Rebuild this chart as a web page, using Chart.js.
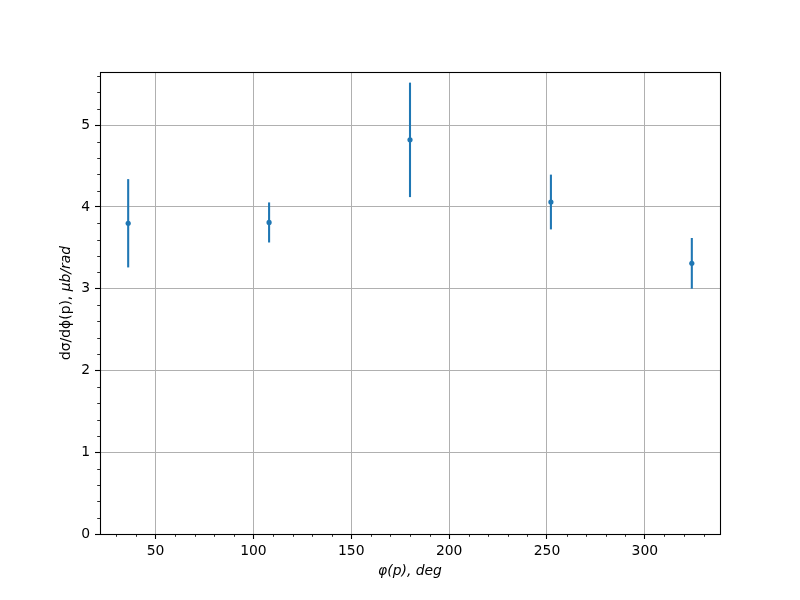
<!DOCTYPE html>
<html>
<head>
<meta charset="utf-8">
<script src="https://cdn.jsdelivr.net/npm/chart.js@4/dist/chart.umd.min.js"></script>
<style>
  html, body { margin: 0; padding: 0; background: #ffffff; }
  #wrap { width: 800px; height: 600px; }
</style>
</head>
<body>
<div id="wrap"><canvas id="c" width="800" height="600"></canvas></div>
<script>
// ---- data ----
const phiDeg = [36, 108, 180, 252, 324];
const dSigma = [3.80, 3.81, 4.82, 4.06, 3.31];
const dSigmaErr = [0.54, 0.245, 0.70, 0.335, 0.31];

const xMajorTicks = [50, 100, 150, 200, 250, 300];
const xMinorTicks = [30, 40, 60, 70, 80, 90, 110, 120, 130, 140, 160, 170, 180, 190, 210, 220, 230, 240, 260, 270, 280, 290, 310, 320, 330];
const yMajorTicks = [0, 1, 2, 3, 4, 5];
const yMinorTicks = [0.2, 0.4, 0.6, 0.8, 1.2, 1.4, 1.6, 1.8, 2.2, 2.4, 2.6, 2.8, 3.2, 3.4, 3.6, 3.8, 4.2, 4.4, 4.6, 4.8, 5.2, 5.4, 5.6];

const xLabel = 'φ(p), deg';
const yLabelUpright = 'dσ/dϕ(p), ';
const yLabelItalic = 'μb/rad';

const BLUE = '#1f77b4';
const FONT = '"DejaVu Sans", sans-serif';
const FS = 13.9;

const points = phiDeg.map((x, i) => ({ x: x, y: dSigma[i] }));

const errorBarPlugin = {
  id: 'errorBars',
  beforeDatasetsDraw(chart) {
    const ctx = chart.ctx;
    const xs = chart.scales.x, ys = chart.scales.y;
    ctx.save();
    ctx.strokeStyle = BLUE;
    ctx.lineWidth = 2.08;
    ctx.lineCap = 'butt';
    phiDeg.forEach((x, i) => {
      const px = xs.getPixelForValue(x);
      const y0 = ys.getPixelForValue(dSigma[i] - dSigmaErr[i]);
      const y1 = ys.getPixelForValue(dSigma[i] + dSigmaErr[i]);
      ctx.beginPath();
      ctx.moveTo(px, y0);
      ctx.lineTo(px, y1);
      ctx.stroke();
    });
    ctx.restore();
  }
};

const framePlugin = {
  id: 'frame',
  afterDraw(chart) {
    const ctx = chart.ctx;
    const a = chart.chartArea;
    const xs = chart.scales.x, ys = chart.scales.y;
    ctx.save();
    // minor ticks
    ctx.strokeStyle = '#000';
    ctx.lineWidth = 0.83;
    ctx.beginPath();
    xMinorTicks.forEach(v => {
      const px = Math.round(xs.getPixelForValue(v)) + 0.5;
      ctx.moveTo(px, a.bottom);
      ctx.lineTo(px, a.bottom + 2.8);
    });
    yMinorTicks.forEach(v => {
      const py = Math.round(ys.getPixelForValue(v)) + 0.5;
      ctx.moveTo(a.left, py);
      ctx.lineTo(a.left - 2.8, py);
    });
    ctx.stroke();
    // frame
    ctx.lineWidth = 1.1;
    ctx.strokeStyle = '#000';
    ctx.strokeRect(Math.round(a.left) + 0.5, Math.round(a.top) + 0.5,
                   Math.round(a.right - a.left), Math.round(a.bottom - a.top));
    // axis labels
    ctx.fillStyle = '#000';
    ctx.textBaseline = 'middle';
    ctx.textAlign = 'center';
    ctx.font = 'italic ' + FS + 'px ' + FONT;
    ctx.fillText(xLabel, (a.left + a.right) / 2, 571);
    // y label (rotated, mixed style)
    ctx.translate(66, (a.top + a.bottom) / 2);
    ctx.rotate(-Math.PI / 2);
    ctx.font = FS + 'px ' + FONT;
    const w1 = ctx.measureText(yLabelUpright).width;
    ctx.font = 'italic ' + FS + 'px ' + FONT;
    const w2 = ctx.measureText(yLabelItalic).width;
    const start = -(w1 + w2) / 2;
    ctx.textAlign = 'left';
    ctx.font = FS + 'px ' + FONT;
    ctx.fillText(yLabelUpright, start, 0);
    ctx.font = 'italic ' + FS + 'px ' + FONT;
    ctx.fillText(yLabelItalic, start + w1, 0);
    ctx.restore();
  }
};

new Chart(document.getElementById('c'), {
  type: 'scatter',
  data: {
    datasets: [{
      label: 'data',
      data: points,
      backgroundColor: BLUE,
      borderColor: BLUE,
      pointRadius: 2.6,
      pointBorderWidth: 0,
      pointHoverRadius: 2.6
    }]
  },
  options: {
    responsive: false,
    animation: false,
    devicePixelRatio: 1,
    layout: { padding: { top: 72, right: 80, left: 0, bottom: 0 } },
    plugins: {
      legend: { display: false },
      tooltip: { enabled: false },
      title: { display: false }
    },
    scales: {
      x: {
        type: 'linear',
        min: 21.6,
        max: 338.4,
        afterBuildTicks: s => { s.ticks = xMajorTicks.map(v => ({ value: v })); },
        afterFit: s => { s.height = 66; },
        grid: { color: '#b0b0b0', lineWidth: 1, tickColor: '#000', tickLength: 5, tickWidth: 1.1 },
        border: { display: false },
        ticks: { color: '#000', font: { family: FONT, size: FS }, padding: 4, maxRotation: 0, autoSkip: false }
      },
      y: {
        type: 'linear',
        min: 0,
        max: 5.65,
        afterBuildTicks: s => { s.ticks = yMajorTicks.map(v => ({ value: v })); },
        afterFit: s => { s.width = 100; },
        grid: { color: '#b0b0b0', lineWidth: 1, tickColor: '#000', tickLength: 5, tickWidth: 1.1 },
        border: { display: false },
        ticks: { color: '#000', font: { family: FONT, size: FS }, padding: 5, autoSkip: false }
      }
    }
  },
  plugins: [errorBarPlugin, framePlugin]
});
</script>
</body>
</html>
